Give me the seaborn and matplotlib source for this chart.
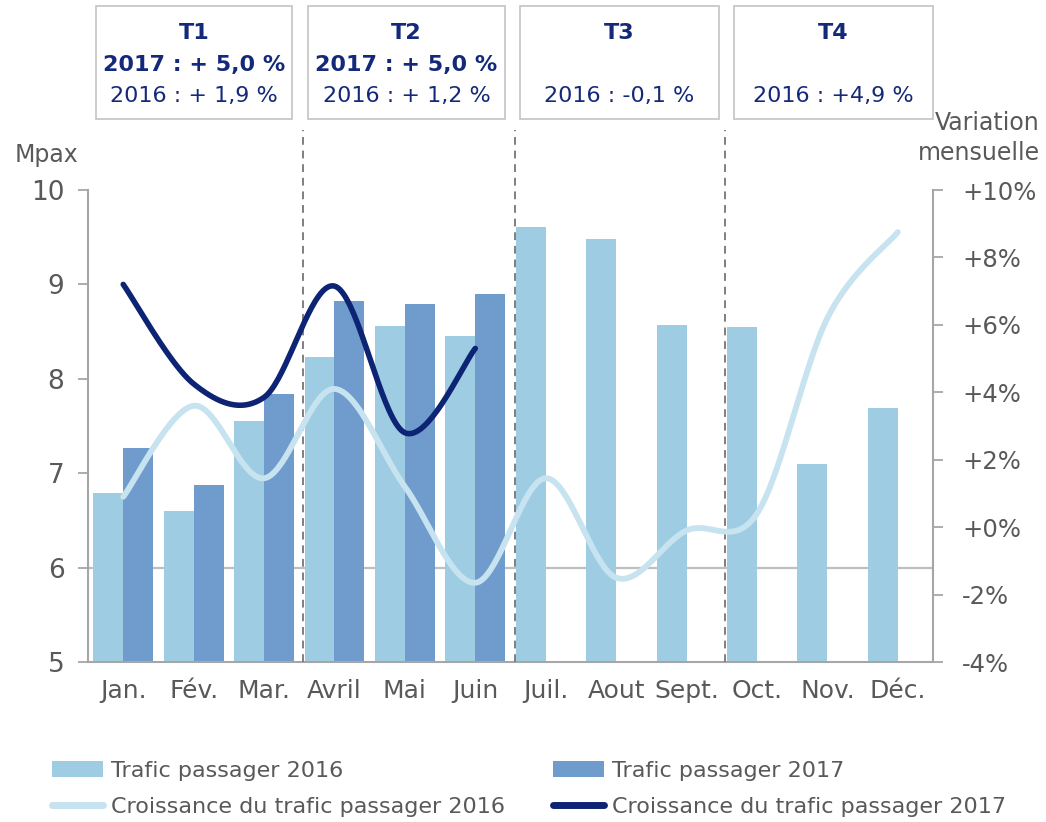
import numpy as np
import pandas as pd
import matplotlib
matplotlib.use("Agg")
import matplotlib.pyplot as plt
from matplotlib.patches import Rectangle, Patch
from matplotlib.lines import Line2D
import seaborn as sns

# ---------------- data ----------------
months = ["Jan.", "Fév.", "Mar.", "Avril", "Mai", "Juin",
          "Juil.", "Aout", "Sept.", "Oct.", "Nov.", "Déc."]
traffic_2016 = [6.79, 6.60, 7.55, 8.23, 8.56, 8.45, 9.61, 9.48, 8.57, 8.55, 7.10, 7.69]
traffic_2017 = [7.27, 6.88, 7.84, 8.82, 8.79, 8.90]
growth_2016 = [0.9, 3.6, 1.45, 4.1, 1.2, -1.65, 1.45, -1.5, -0.1, 0.4, 6.2, 8.75]
growth_2017 = [7.2, 4.25, 3.85, 7.15, 2.8, 5.3]
left_ticks = [5, 6, 7, 8, 9, 10]
right_ticks = [-4, -2, 0, 2, 4, 6, 8, 10]
quarters = ["T1", "T2", "T3", "T4"]
quarter_2017 = ["2017 : + 5,0 %", "2017 : + 5,0 %", "", ""]
quarter_2016 = ["2016 : + 1,9 %", "2016 : + 1,2 %", "2016 : -0,1 %", "2016 : +4,9 %"]
legend_labels = ["Trafic passager 2016", "Trafic passager 2017",
                 "Croissance du trafic passager 2016", "Croissance du trafic passager 2017"]

# ---------------- style ----------------
C16 = "#9ECDE3"
C17 = "#6F9BCD"
L16 = "#C6E3EF"
L17 = "#0C2473"
NAVY = "#14297A"
GRAY_TXT = "#595959"
GRAY_AX = "#A6A6A6"

sns.set_style("white")
plt.rcParams["font.family"] = ["DejaVu Sans"]

W, H = 1046, 822
fig = plt.figure(figsize=(W / 100, H / 100), dpi=100)
ax_l, ax_r, ax_b, ax_t = 88, 933, 662, 190
ax = fig.add_axes([ax_l / W, 1 - ax_b / H, (ax_r - ax_l) / W, (ax_b - ax_t) / H])

rows = []
for i, m in enumerate(months):
    rows.append({"Mois": m, "Année": "2016", "Trafic": traffic_2016[i]})
    rows.append({"Mois": m, "Année": "2017",
                 "Trafic": traffic_2017[i] if i < len(traffic_2017) else np.nan})
df = pd.DataFrame(rows)

sns.barplot(data=df, x="Mois", y="Trafic", hue="Année", order=months,
            hue_order=["2016", "2017"], palette=[C16, C17], width=0.85, gap=0,
            errorbar=None, legend=False, ax=ax, saturation=1, linewidth=0)

ax.set_xlim(-0.5, len(months) - 0.5)
ax.set_ylim(5, 10)
ax.set_yticks(left_ticks)
ax.set_yticklabels([str(t) for t in left_ticks])
ax.set_xlabel("")
ax.set_ylabel("")

# gridline at 6
ax.axhline(6, color="#BFBFBF", lw=1.6, zorder=0.5)

# category boundary ticks
ax.set_xticks(np.arange(len(months)))
ax.set_xticklabels(months)
ax.set_xticks(np.arange(-0.5, len(months) + 0.5, 1), minor=True)
ax.tick_params(axis="x", which="major", length=0, pad=12, labelsize=18, labelcolor=GRAY_TXT)
ax.tick_params(axis="x", which="minor", length=8, width=1.3, color=GRAY_AX, direction="out")
ax.tick_params(axis="y", length=7, width=1.3, color=GRAY_AX, direction="out",
               pad=10, labelsize=19, labelcolor=GRAY_TXT)
for s in ["top", "right"]:
    ax.spines[s].set_visible(False)
for s in ["left", "bottom"]:
    ax.spines[s].set_color(GRAY_AX)
    ax.spines[s].set_linewidth(1.5)


# ---------------- smooth lines on secondary axis ----------------
def smooth(xv, yv, n=40):
    xv = np.asarray(xv, float)
    yv = np.asarray(yv, float)
    P = np.column_stack([xv, yv])
    out = []
    for i in range(len(P) - 1):
        p0 = P[i - 1] if i > 0 else P[i]
        p1 = P[i]
        p2 = P[i + 1]
        p3 = P[i + 2] if i + 2 < len(P) else P[i + 1]
        c1 = p1 + (p2 - p0) / 6
        c2 = p2 - (p3 - p1) / 6
        t = np.linspace(0, 1, n, endpoint=(i == len(P) - 2))[:, None]
        seg = ((1 - t) ** 3) * p1 + 3 * ((1 - t) ** 2) * t * c1 + 3 * (1 - t) * t ** 2 * c2 + t ** 3 * p2
        out.append(seg)
    out = np.vstack(out)
    return out[:, 0], out[:, 1]


ax2 = ax.twinx()
ax2.set_position(ax.get_position())
x16, y16 = smooth(np.arange(len(growth_2016)), growth_2016)
x17, y17 = smooth(np.arange(len(growth_2017)), growth_2017)
sns.lineplot(x=x16, y=y16, ax=ax2, color=L16, lw=4.2, sort=False, estimator=None,
             solid_capstyle="round")
sns.lineplot(x=x17, y=y17, ax=ax2, color=L17, lw=4.0, sort=False, estimator=None,
             solid_capstyle="round")
ax2.set_ylim(-4, 10)
ax2.set_xlim(-0.5, len(months) - 0.5)
ax2.set_yticks(right_ticks)
ax2.set_yticklabels([("+%d%%" % t) if t >= 0 else ("%d%%" % t) for t in right_ticks])
ax2.tick_params(axis="y", length=7, width=1.3, color=GRAY_AX, direction="out",
                pad=14, labelsize=17.5, labelcolor=GRAY_TXT)
for s in ["top", "left", "bottom"]:
    ax2.spines[s].set_visible(False)
ax2.spines["right"].set_color(GRAY_AX)
ax2.spines["right"].set_linewidth(1.5)
ax2.set_ylabel("")

# quarter separators (dashed), extending above the axes
ymax_ext = (ax_b - 130) / (ax_b - ax_t)
for xb in [2.55, 5.56, 8.55]:
    ax.axvline(xb, ymin=0, ymax=ymax_ext, color="#7F7F7F", lw=1.4, ls=(0, (4, 3)),
               clip_on=False, zorder=3)

# axis titles
fig.text(15 / W, 1 - 155 / H, "Mpax", ha="left", va="center", fontsize=17, color=GRAY_TXT)
fig.text(1040 / W, 1 - 123 / H, "Variation", ha="right", va="center", fontsize=17, color=GRAY_TXT)
fig.text(1040 / W, 1 - 153 / H, "mensuelle", ha="right", va="center", fontsize=17, color=GRAY_TXT)

# quarter boxes
boxes = [(96, 292), (308, 505), (520, 719), (734, 933)]
for (x0, x1), q, t17, t16 in zip(boxes, quarters, quarter_2017, quarter_2016):
    fig.patches.append(Rectangle((x0 / W, 1 - 119 / H), (x1 - x0) / W, 113 / H,
                                 transform=fig.transFigure, fill=False,
                                 edgecolor="#C8C8C8", lw=1.3))
    xc = (x0 + x1) / 2 / W
    fig.text(xc, 1 - 33 / H, q, ha="center", va="center", fontsize=16,
             fontweight="bold", color=NAVY)
    if t17:
        fig.text(xc, 1 - 65 / H, t17, ha="center", va="center", fontsize=16,
                 fontweight="bold", color=NAVY)
    fig.text(xc, 1 - 96 / H, t16, ha="center", va="center", fontsize=16, color=NAVY)

# legend: two columns, placed separately
leg_kw = dict(loc="upper left", frameon=False, fontsize=16, labelcolor=GRAY_TXT,
              handlelength=2.3, handleheight=0.75, handletextpad=0.35,
              labelspacing=0.72, borderpad=0, borderaxespad=0)
leg1 = fig.legend([Patch(facecolor=C16, edgecolor="none"),
                   Line2D([0], [0], color=L16, lw=5)],
                  [legend_labels[0], legend_labels[2]],
                  bbox_to_anchor=(52 / W, 1 - 761 / H), **leg_kw)
leg2 = fig.legend([Patch(facecolor=C17, edgecolor="none"),
                   Line2D([0], [0], color=L17, lw=5)],
                  [legend_labels[1], legend_labels[3]],
                  bbox_to_anchor=(553 / W, 1 - 761 / H), **leg_kw)

fig.savefig("out.png", dpi=100)
